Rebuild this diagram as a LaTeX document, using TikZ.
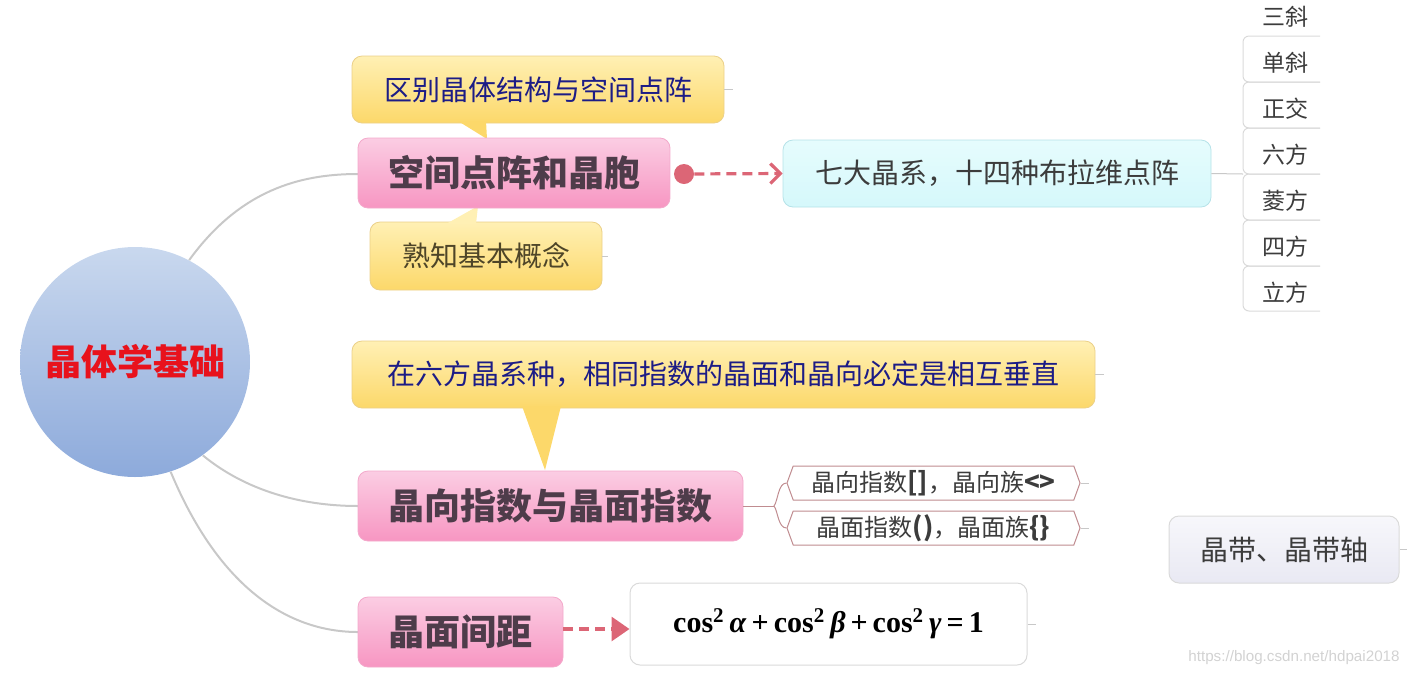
\documentclass[tikz,border=0pt]{standalone}
\usepackage{fontspec}
\setmainfont{Liberation Serif}
\newfontfamily\cjk{Noto Sans CJK SC}
\newfontfamily\wmfont{Liberation Sans}
\usetikzlibrary{shapes.symbols,arrows.meta}
\definecolor{calltop}{HTML}{FFF0B4}
\definecolor{callbot}{HTML}{FCD86A}
\definecolor{callborder}{HTML}{EBD088}
\definecolor{pinktop}{HTML}{FBCDE3}
\definecolor{pinkbot}{HTML}{F796C2}
\definecolor{pinkborder}{HTML}{F3A9CB}
\definecolor{pinktext}{HTML}{4E3C4A}
\definecolor{navytext}{HTML}{1C1C86}
\definecolor{olivetext}{HTML}{4E4528}
\definecolor{cyanfill}{HTML}{D5F8FB}
\definecolor{cyantop}{HTML}{E6FCFD}
\definecolor{cyanborder}{HTML}{B5E2E8}
\definecolor{graytext}{HTML}{3C3C3C}
\definecolor{linegray}{HTML}{C8C8C8}
\definecolor{arrowred}{HTML}{DC6676}
\definecolor{hexborder}{HTML}{C08C90}
\definecolor{circtop}{HTML}{C9D8EE}
\definecolor{circbot}{HTML}{8DAADB}
\definecolor{rootred}{HTML}{E8121C}
\definecolor{boxgray}{HTML}{DADADA}
\definecolor{lavtop}{HTML}{F7F7FB}
\definecolor{lavbot}{HTML}{E9E9F3}
\definecolor{wmgray}{HTML}{D2D2D2}
\newcommand{\cosq}{\textbf{cos}\textsuperscript{\textbf{2}}}
\newcommand{\bgr}[1]{\textbf{\itshape #1}}
\begin{document}
\begin{tikzpicture}[x=0.5pt,y=-0.5pt,
  callout/.style={rounded corners=5pt, top color=calltop, bottom color=callbot, draw=callborder, line width=0.4pt, inner sep=0pt},
  calltext/.style={font=\cjk\fontsize{14pt}{16pt}\selectfont},
  pinkbox/.style={rounded corners=5pt, top color=pinktop, bottom color=pinkbot, draw=pinkborder, line width=0.4pt, inner sep=0pt, minimum height=35pt, text=pinktext, font=\cjk\bfseries\fontsize{18pt}{20pt}\selectfont},
  conn/.style={draw=linegray, line width=1pt},
  stub/.style={draw=linegray, line width=0.5pt},
  dasharrow/.style={draw=arrowred, line width=1.6pt, dash pattern=on 5pt off 3pt},
  itemtext/.style={text=graytext, font=\cjk\fontsize{11.5pt}{13pt}\selectfont, inner sep=0pt},
  itembox/.style={draw=boxgray, line width=0.5pt, rounded corners=3pt},
  hexbox/.style={signal, signal to=west and east, signal pointer angle=140, draw=hexborder, fill=white, line width=0.5pt, minimum width=146.5pt, minimum height=17pt, inner sep=0pt, text=graytext, font=\cjk\fontsize{12pt}{14pt}\selectfont}
]
\useasboundingbox (0,0) rectangle (1413,676);

% root
\node[circle, top color=circtop, bottom color=circbot, minimum size=115pt, inner sep=0pt, text=rootred, font=\cjk\bfseries\fontsize{18pt}{20pt}\selectfont] (root) at (135,362) {晶体学基础};

% connectors from root
\draw[conn] (root.62) .. controls (240,190) and (300,174) .. (358,174) coordinate (p1in);
\draw[conn] (root.-54) .. controls (245,490) and (300,506) .. (358,506) coordinate (p2in);
\draw[conn] (root.-72) .. controls (220,590) and (290,632) .. (358,632) coordinate (p3in);

% callout 1 and pink 1
\node[callout, minimum width=186pt, minimum height=33.5pt] (c1) at (538,89.5) {};
\fill[callbot] (458,121) -- (486,121) -- (487,139) -- cycle;
\node[calltext, text=navytext] (c1t) at (c1) {区别晶体结构与空间点阵};
\node[callout, minimum width=116pt, minimum height=34pt] (c2) at (486,256) {};
\fill[calltop] (446,224) -- (476,224) -- (478,206) -- cycle;
\node[calltext, text=olivetext] (c2t) at (c2) {熟知基本概念};
\node[pinkbox, minimum width=156pt] (p1) at (514,173) {空间点阵和晶胞};

\draw[stub] (c1.east) -- ++(9,0) coordinate (c1s);
\draw[stub] (c2.east) -- ++(6,0) coordinate (c2s);

% cyan node
\node[circle, fill=arrowred, minimum size=10pt, inner sep=0pt] (dot) at (684,174) {};
\node[rounded corners=5pt, top color=cyantop, bottom color=cyanfill, draw=cyanborder, line width=0.4pt, minimum width=214pt, minimum height=33.5pt, inner sep=0pt, text=graytext, font=\cjk\fontsize{14pt}{16pt}\selectfont] (cy) at (997,173.5) {七大晶系，十四种布拉维点阵};
\draw[dasharrow, -{Straight Barb[length=5pt,width=10pt]}] (dot) -- (cy.west);

% seven crystal systems
\coordinate (brk) at (1243,174);
\draw[stub] (cy.east) -- (brk);
\foreach \t/\b in {36/82, 82/128, 128/174, 174/220, 220/266, 266/311} {
  \draw[itembox] (1320,\t) -- (1243,\t) -- (1243,\b) -- (1320,\b);
}
\node[itemtext] (it1) at (1285,17) {三斜};
\node[itemtext] (it2) at (1285,63) {单斜};
\node[itemtext] (it3) at (1285,109) {正交};
\node[itemtext] (it4) at (1285,155) {六方};
\node[itemtext] (it5) at (1285,201) {菱方};
\node[itemtext] (it6) at (1285,247) {四方};
\node[itemtext] (it7) at (1285,293) {立方};

% callout 3 and pink 2
\node[callout, minimum width=371.5pt, minimum height=33.5pt] (c3) at (723.5,374.5) {};
\fill[callbot] (522,406) -- (561,406) -- (545,470) -- cycle;
\node[calltext, text=navytext] (c3t) at (c3) {在六方晶系种，相同指数的晶面和晶向必定是相互垂直};
\draw[stub] (c3.east) -- ++(9,0) coordinate (c3s);
\node[pinkbox, minimum width=192.5pt] (p2) at (550.5,506) {晶向指数与晶面指数};

% hexagon items
\node[hexbox] (h1) at (933.5,483) {晶向指数{\bfseries\fontsize{13pt}{14pt}\selectfont[]}，晶向族{\bfseries\fontsize{13pt}{14pt}\selectfont<>}};
\node[hexbox] (h2) at (933.5,528) {晶面指数{\bfseries\fontsize{13pt}{14pt}\selectfont()}，晶面族{\bfseries\fontsize{13pt}{14pt}\selectfont\{\}}};
\coordinate (hb) at (774,506);
\draw[draw=hexborder, line width=0.5pt] (p2.east) -- (hb);
\draw[draw=hexborder, line width=0.5pt] (h1.west) .. controls (778,483) and (778,501) .. (hb) .. controls (778,511) and (778,528) .. (h2.west);
\draw[stub] (h1.east) -- ++(8,0) coordinate (h1s);
\draw[stub] (h2.east) -- ++(8,0) coordinate (h2s);

% pink 3 and formula
\node[pinkbox, minimum width=102.5pt] (p3) at (460.5,632) {晶面间距};
\node[rounded corners=5pt, draw=boxgray, fill=white, line width=0.5pt, minimum width=198.5pt, minimum height=41pt, inner sep=0pt] (fb) at (828.5,624) {};
\node[inner sep=0pt, font=\fontsize{15pt}{17pt}\selectfont] (fml) at (fb) {\cosq\,\bgr{α}\,\textbf{+}\,\cosq\,\bgr{β}\,\textbf{+}\,\cosq\,\bgr{γ}\,\textbf{=}\,\textbf{1}};
\draw[dasharrow, -{Triangle[length=9pt,width=12pt]}] ([yshift=1.5pt]p3.east) -- ([yshift=1.5pt]p3.east -| fb.west);
\draw[stub] (fb.east) -- ++(8,0) coordinate (fbs);

% zone axis
\node[rounded corners=5pt, top color=lavtop, bottom color=lavbot, draw=boxgray, line width=0.5pt, minimum width=115pt, minimum height=33.5pt, inner sep=0pt, text=graytext, font=\cjk\fontsize{14pt}{16pt}\selectfont] (zb) at (1284,549.5) {晶带、晶带轴};
\draw[stub] (zb.east) -- ++(7,0) coordinate (zbs);

% watermark
\node[text=wmgray, font=\wmfont\fontsize{7.6pt}{9pt}\selectfont, inner sep=0pt] (wm) at (1294,658) {https://blog.csdn.net/hdpai2018};
\end{tikzpicture}
\end{document}
